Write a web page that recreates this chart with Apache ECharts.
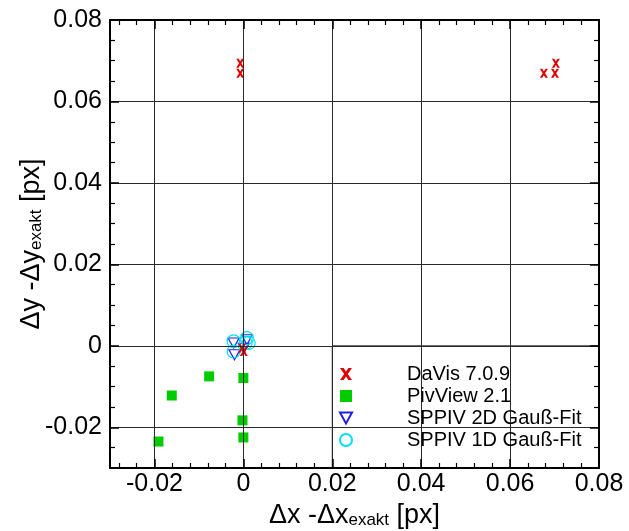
<!DOCTYPE html>
<html><head><meta charset="utf-8">
<script src="https://cdn.jsdelivr.net/npm/echarts@6/dist/echarts.min.js"></script>
<style>html,body{margin:0;padding:0;background:#fff}#c{width:629px;height:531px}</style>
</head><body><div id="c"></div>
<script>
const seriesNames = ['DaVis 7.0.9', 'PivView 2.1', 'SPPIV 2D Gauß-Fit', 'SPPIV 1D Gauß-Fit'];
const davis = [[-0.0007, 0.0694], [-0.0007, 0.0669], [0.0703, 0.0694], [0.0676, 0.0669], [0.0701, 0.0669], [-0.0003, -0.0006], [0.0001, -0.0014]];
const pivview = [[-0.0077, -0.0075], [0.0000, -0.0079], [-0.0161, -0.0122], [-0.0002, -0.0183], [-0.0191, -0.0235], [0.0000, -0.0225]];
const sppiv2d = [[-0.0022, 0.0007], [-0.0020, -0.0022], [0.0008, 0.0015], [0.0001, -0.0006]];
const sppiv1d = [[-0.0022, 0.0011], [0.0008, 0.0019], [0.0005, 0.0007], [-0.0022, -0.0014], [0.0012, 0.0007]];
const xTicks = [-0.02, 0, 0.02, 0.04, 0.06, 0.08];
const yTicks = [-0.02, 0, 0.02, 0.04, 0.06, 0.08];
const xMinorTicks = [-0.028, -0.024, -0.016, -0.012, -0.008, -0.004, 0.004, 0.008, 0.012, 0.016, 0.024, 0.028, 0.032, 0.036, 0.044, 0.048, 0.052, 0.056, 0.064, 0.068, 0.072, 0.076];
const yMinorTicks = [-0.025, -0.015, -0.01, -0.005, 0.005, 0.01, 0.015, 0.025, 0.03, 0.035, 0.045, 0.05, 0.055, 0.065, 0.07, 0.075];
const xGridValues = [-0.02, 0, 0.02, 0.04, 0.06];
const yGridValues = [-0.02, 0, 0.02, 0.04, 0.06];
const xRange = [-0.03, 0.08];
const yRange = [-0.03, 0.08];
const legendBox = {x: [0.02, 0.08], y: [-0.03, 0]};

const FONT = 'Liberation Sans';
const X_SYMBOL = 'path://M0,0L3,0L5,3L7,0L10,0L6.5,5L10,10L7,10L5,7L3,10L0,10L3.5,5Z';
const DOWN_TRI = 'path://M0,0L10,0L5,9Z';
const chart = echarts.init(document.getElementById('c'));

function majorAxis(gridIndex, position, showLabel, ticks, extra) {
  const isX = position === 'bottom' || position === 'top';
  return Object.assign({
    type: 'value', gridIndex, position, min: isX ? xRange[0] : yRange[0], max: isX ? xRange[1] : yRange[1],
    z: 5,
    axisLine: {show: true, onZero: false, lineStyle: {color: '#000', width: 2}},
    axisTick: {show: true, inside: true, length: 9, customValues: ticks, lineStyle: {color: '#000', width: 1.5}},
    axisLabel: showLabel ? {show: true, customValues: ticks, fontSize: 25, color: '#000', fontFamily: FONT, margin: position === 'left' ? 8 : 4} : {show: false},
    splitLine: {show: false}
  }, extra || {});
}
function minorAxis(gridIndex, position, ticks) {
  const isX = position === 'bottom' || position === 'top';
  return {
    type: 'value', gridIndex, position, min: isX ? xRange[0] : yRange[0], max: isX ? xRange[1] : yRange[1],
    z: 5,
    axisLine: {show: false, onZero: false},
    axisTick: {show: true, inside: true, length: 5, customValues: ticks, lineStyle: {color: '#000', width: 1.2}},
    axisLabel: {show: false},
    splitLine: {show: false}
  };
}

const nameRich = {
  m: {fontSize: 27, fontFamily: FONT, color: '#000', lineHeight: 38, verticalAlign: 'bottom'},
  s: {fontSize: 17, fontFamily: FONT, color: '#000', lineHeight: 17, verticalAlign: 'bottom'}
};

const gridBox = {left: 110, right: 30, top: 20, bottom: 63, containLabel: false, outerBoundsMode: 'none'};

const option = {
  animation: false,
  backgroundColor: '#fff',
  grid: [Object.assign({}, gridBox), Object.assign({}, gridBox)],
  xAxis: [
    majorAxis(0, 'bottom', true, xTicks, {name: '{m|Δx -Δx}{s|exakt}{m| [px]}', nameLocation: 'middle', nameGap: 23, nameTextStyle: {rich: nameRich}}),
    majorAxis(0, 'top', false, xTicks),
    minorAxis(1, 'bottom', xMinorTicks),
    minorAxis(1, 'top', xMinorTicks)
  ],
  yAxis: [
    majorAxis(0, 'left', true, yTicks, {name: '{m|Δy -Δy}{s|exakt}{m| [px]}', nameLocation: 'middle', nameGap: 65, nameMoveOverlap: false, nameTextStyle: {rich: nameRich}}),
    majorAxis(0, 'right', false, yTicks),
    minorAxis(1, 'left', yMinorTicks),
    minorAxis(1, 'right', yMinorTicks)
  ],
  legend: {
    data: [
      {name: seriesNames[0], icon: X_SYMBOL},
      {name: seriesNames[1], icon: 'rect'},
      {name: seriesNames[2], icon: DOWN_TRI},
      {name: seriesNames[3], icon: 'circle'}
    ],
    orient: 'vertical', left: 339, top: 364, padding: 0,
    itemWidth: 12, itemHeight: 12, itemGap: 2, z: 10,
    textStyle: {fontSize: 20, fontFamily: FONT, color: '#000', lineHeight: 20, padding: [0, 0, 0, 50]}
  },
  series: [
    {
      type: 'scatter', name: 'gridlines', data: [], z: 1, silent: true, xAxisIndex: 0, yAxisIndex: 0,
      markLine: {
        silent: true, symbol: ['none', 'none'], label: {show: false}, animation: false,
        lineStyle: {color: '#2a2a2a', width: 1, type: 'solid'},
        data: xGridValues.map(v => ({xAxis: v})).concat(yGridValues.map(v => ({yAxis: v})))
      }
    },
    {
      type: 'scatter', name: 'legendbox', data: [], z: 2, silent: true, xAxisIndex: 0, yAxisIndex: 0,
      markArea: {
        silent: true, label: {show: false}, animation: false,
        itemStyle: {color: '#fff', borderColor: '#2a2a2a', borderWidth: 1},
        data: [[{xAxis: legendBox.x[0], yAxis: legendBox.y[0]}, {xAxis: legendBox.x[1], yAxis: legendBox.y[1]}]]
      }
    },
    {
      type: 'scatter', name: seriesNames[1], data: pivview, z: 3, xAxisIndex: 0, yAxisIndex: 0,
      symbol: 'rect', symbolSize: 10, itemStyle: {color: '#00cc00', opacity: 1}
    },
    {
      type: 'scatter', name: seriesNames[2], data: sppiv2d, z: 3, xAxisIndex: 0, yAxisIndex: 0,
      symbol: DOWN_TRI, symbolSize: [11, 10],
      itemStyle: {color: 'rgba(255,255,255,0)', borderColor: '#2222dd', borderWidth: 1.2, opacity: 1}
    },
    {
      type: 'scatter', name: seriesNames[3], data: sppiv1d, z: 3, xAxisIndex: 0, yAxisIndex: 0,
      symbol: 'circle', symbolSize: 13,
      itemStyle: {color: 'rgba(255,255,255,0)', borderColor: '#00e0f0', borderWidth: 1.2, opacity: 1}
    },
    {
      type: 'scatter', name: seriesNames[0], data: davis, z: 3, xAxisIndex: 0, yAxisIndex: 0,
      symbol: X_SYMBOL, symbolSize: [8, 9],
      itemStyle: {color: '#dd0000', opacity: 1}
    }
  ]
};
chart.setOption(option);
</script></body></html>
